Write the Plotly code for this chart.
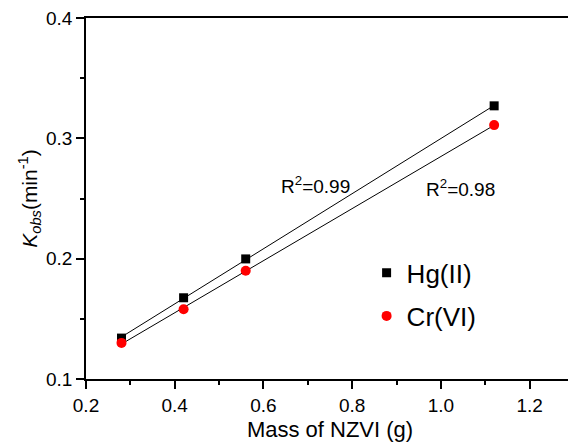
import numpy as np
import plotly.graph_objects as go

mass = [0.28, 0.42, 0.56, 1.12]
hg = [0.134, 0.1675, 0.1998, 0.327]
cr = [0.130, 0.158, 0.190, 0.311]
r2_labels = ["R<sup>2</sup>=0.99", "R<sup>2</sup>=0.98"]
r2_pos = [(0.717, 0.261), (1.044, 0.259)]

font = "Liberation Sans, Arial, sans-serif"
fig = go.Figure()

for ys in (hg, cr):
    k, b = np.polyfit(mass, ys, 1)
    xf = [mass[0], mass[-1]]
    fig.add_trace(go.Scatter(x=xf, y=[k * v + b for v in xf], mode="lines",
                             line=dict(color="black", width=1), showlegend=False,
                             hoverinfo="skip"))

fig.add_trace(go.Scatter(x=mass, y=hg, mode="markers", name="Hg(II)", legend="legend",
                         marker=dict(symbol="square", size=9, color="black")))
fig.add_trace(go.Scatter(x=mass, y=cr, mode="markers", name="Cr(VI)", legend="legend2",
                         marker=dict(symbol="circle", size=10, color="red")))

for txt, (ax, ay) in zip(r2_labels, r2_pos):
    fig.add_annotation(x=ax, y=ay, text=txt, showarrow=False,
                       font=dict(family=font, size=19, color="black"))

axis_common = dict(showline=True, linecolor="black", linewidth=1.5, mirror=True,
                   ticks="outside", ticklen=8, tickwidth=1.5, tickcolor="black",
                   showgrid=False, zeroline=False, ticklabeloverflow="allow",
                   tickfont=dict(family=font, size=19, color="black"),
                   minor=dict(ticks="outside", ticklen=4, tickwidth=1.5, tickcolor="black"))

leg_common = dict(xanchor="left", yanchor="middle",
                  font=dict(family=font, size=26, color="black"),
                  bgcolor="rgba(0,0,0,0)")

fig.update_layout(
    width=568, height=437,
    margin=dict(l=78, r=0, t=10, b=66),
    paper_bgcolor="white", plot_bgcolor="white",
    xaxis=dict(range=[0.2, 1.3], dtick=0.2, tick0=0.2, tickformat=".1f",
               title=dict(text="Mass of NZVI (g)", font=dict(family=font, size=22, color="black"), standoff=7),
               **axis_common),
    yaxis=dict(range=[0.1, 0.4], dtick=0.1, tick0=0.1, tickformat=".1f",
               title=dict(text="<i>K</i><sub><i>obs</i></sub>(min<sup>-1</sup>)",
                          font=dict(family=font, size=21, color="black"), standoff=3),
               **axis_common),
    legend=dict(x=0.575, y=0.294, **leg_common),
    legend2=dict(x=0.575, y=0.1745, **leg_common),
)
fig.update_xaxes(minor=dict(dtick=0.1))
fig.update_yaxes(minor=dict(dtick=0.05))

fig.write_html("out.html")
